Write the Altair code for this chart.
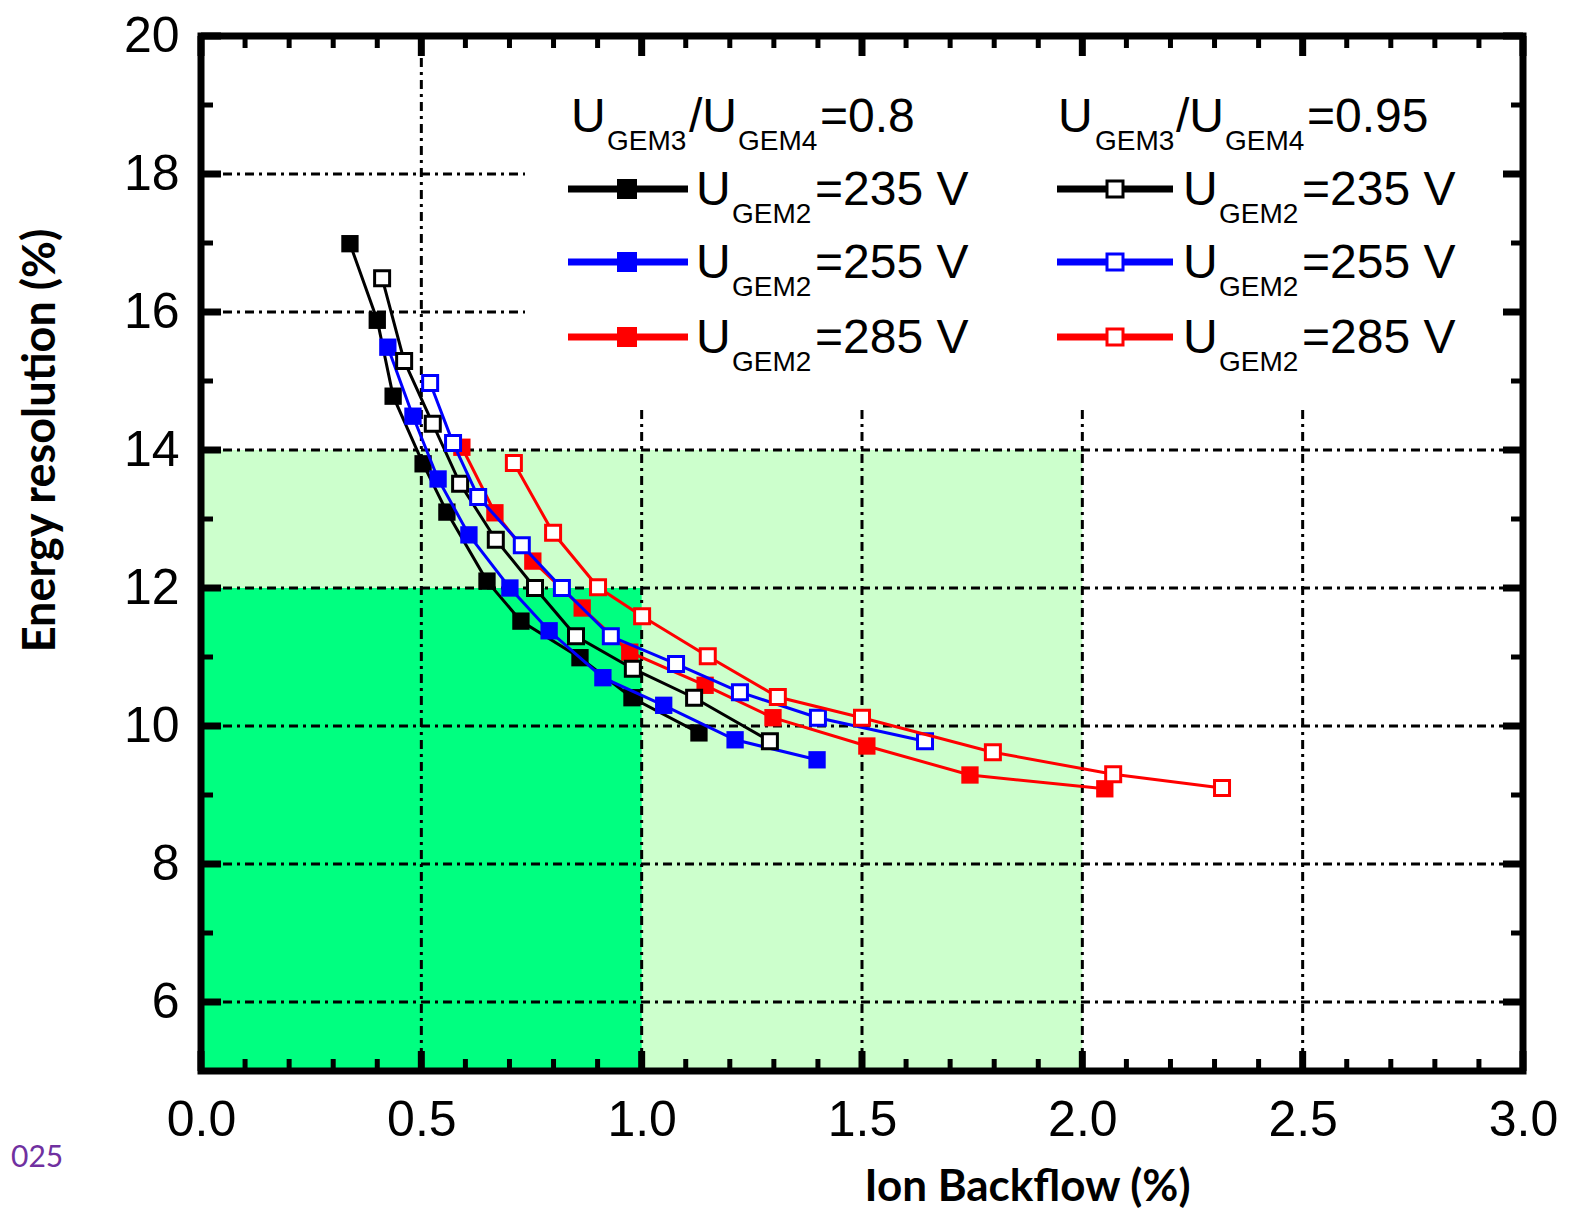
import altair as alt
import pandas as pd

# ---------------- data ----------------
# U_GEM3/U_GEM4 = 0.8  (filled squares)
x_08_235 = [0.338, 0.400, 0.436, 0.504, 0.558, 0.649, 0.726, 0.860, 0.978, 1.130]
y_08_235 = [16.99, 15.88, 14.78, 13.80, 13.10, 12.10, 11.52, 10.99, 10.41, 9.90]
x_08_255 = [0.424, 0.481, 0.538, 0.608, 0.701, 0.790, 0.912, 1.050, 1.212, 1.398]
y_08_255 = [15.49, 14.49, 13.58, 12.77, 12.00, 11.38, 10.70, 10.30, 9.80, 9.51]
x_08_285 = [0.592, 0.667, 0.753, 0.865, 0.973, 1.144, 1.298, 1.511, 1.745, 2.051]
y_08_285 = [14.04, 13.09, 12.39, 11.71, 11.07, 10.59, 10.12, 9.71, 9.29, 9.09]
# U_GEM3/U_GEM4 = 0.95 (open squares)
x_095_235 = [0.411, 0.461, 0.526, 0.588, 0.669, 0.758, 0.851, 0.980, 1.119, 1.291]
y_095_235 = [16.49, 15.29, 14.38, 13.51, 12.70, 12.00, 11.30, 10.83, 10.41, 9.78]
x_095_255 = [0.520, 0.572, 0.629, 0.728, 0.819, 0.930, 1.078, 1.223, 1.400, 1.643]
y_095_255 = [14.97, 14.10, 13.32, 12.62, 12.00, 11.30, 10.90, 10.49, 10.12, 9.78]
x_095_285 = [0.710, 0.799, 0.901, 1.001, 1.150, 1.309, 1.500, 1.797, 2.070, 2.317]
y_095_285 = [13.81, 12.80, 12.01, 11.59, 11.01, 10.42, 10.12, 9.62, 9.30, 9.10]

series = [
    ("0.8-235", x_08_235, y_08_235, "#000000", True),
    ("0.8-255", x_08_255, y_08_255, "#0000FF", True),
    ("0.8-285", x_08_285, y_08_285, "#FF0000", True),
    ("0.95-235", x_095_235, y_095_235, "#000000", False),
    ("0.95-255", x_095_255, y_095_255, "#0000FF", False),
    ("0.95-285", x_095_285, y_095_285, "#FF0000", False),
]

x_tick_labels = [0.0, 0.5, 1.0, 1.5, 2.0, 2.5, 3.0]
y_tick_labels = [6, 8, 10, 12, 14, 16, 18, 20]
x_minor = [round(0.1 * i, 1) for i in range(1, 30) if i % 5 != 0]
y_minor = [7, 9, 11, 13, 15, 17, 19]
y_grid = [6, 8, 10, 12, 14, 16, 18]
x_grid = [0.5, 1.0, 1.5, 2.0, 2.5]

# ---------------- layout ----------------
W, H = 1322, 1035
X0, Y0 = 201, 36  # page position of plot origin
XMAX, YMIN, YMAX = 3.0, 5.0, 20.0


def dx(px):  # page pixel -> data x
    return (px - X0) / W * XMAX


def dy(py):  # page pixel -> data y
    return YMAX - (py - Y0) / H * (YMAX - YMIN)


XS = alt.Scale(domain=[0, XMAX], nice=False, zero=False)
YS = alt.Scale(domain=[YMIN, YMAX], nice=False, zero=False)

xax = alt.Axis(values=x_tick_labels, format=".1f", ticks=False, domain=False, grid=False,
               labelFont="Liberation Sans", labelFontSize=50, labelColor="black",
               labelPadding=24, labelFlush=False, labelOverlap=False,
               title="Ion Backflow (%)", titleFont="Lato", titleFontSize=44,
               titleFontWeight="bold", titleColor="black", titleX=826, titleY=129,
               titleBaseline="alphabetic", titleAlign="center")
yax = alt.Axis(values=y_tick_labels, format="d", ticks=False, domain=False, grid=False,
               labelFont="Liberation Sans", labelFontSize=50, labelColor="black",
               labelPadding=22, labelFlush=False, labelOverlap=False, labelBaseline="middle",
               title="Energy resolution (%)", titleFont="Lato", titleFontSize=45,
               titleFontWeight="bold", titleColor="black", titleX=-161, titleY=404,
               titleAngle=270, titleBaseline="middle", titleAlign="center")


def X(f="x"):
    return alt.X(f"{f}:Q", scale=XS, axis=xax)


def Y(f="y"):
    return alt.Y(f"{f}:Q", scale=YS, axis=yax)


layers = []

# shaded regions
regions = pd.DataFrame({"x": [0, 0], "x2": [2.0, 1.0], "y": [5, 5], "y2": [14, 12],
                        "c": ["#CCFFCC", "#00FF80"]})
layers.append(alt.Chart(regions).mark_rect().encode(
    x=X(), x2="x2:Q", y=Y(), y2="y2:Q", color=alt.Color("c:N", scale=None)))

# grid lines (dash-dot)
gdash = [9, 5, 3, 5]
layers.append(alt.Chart(pd.DataFrame({"y": y_grid})).mark_rule(
    color="black", strokeWidth=3, strokeDash=gdash).encode(
    y=Y(), x=alt.value(0), x2=alt.value(W)))
layers.append(alt.Chart(pd.DataFrame({"x": x_grid})).mark_rule(
    color="black", strokeWidth=3, strokeDash=gdash).encode(
    x=X(), y=alt.value(0), y2=alt.value(H)))

# white legend box
lbox = pd.DataFrame({"x": [dx(525)], "x2": [XMAX], "y": [dy(410)], "y2": [YMAX]})
layers.append(alt.Chart(lbox).mark_rect(color="white").encode(
    x=X(), x2="x2:Q", y=Y(), y2="y2:Q"))

# inward ticks
MAJ, MIN = 20, 12
for vals, ln, w in [(x_tick_labels, MAJ, 7), (x_minor, MIN, 5)]:
    d = pd.DataFrame({"x": vals})
    layers.append(alt.Chart(d).mark_rule(color="black", strokeWidth=w).encode(
        x=X(), y=alt.value(H), y2=alt.value(H - ln)))
    layers.append(alt.Chart(d).mark_rule(color="black", strokeWidth=w).encode(
        x=X(), y=alt.value(0), y2=alt.value(ln)))
for vals, ln, w in [(y_tick_labels, MAJ, 7), (y_minor, MIN, 5)]:
    d = pd.DataFrame({"y": vals})
    layers.append(alt.Chart(d).mark_rule(color="black", strokeWidth=w).encode(
        y=Y(), x=alt.value(0), x2=alt.value(ln)))
    layers.append(alt.Chart(d).mark_rule(color="black", strokeWidth=w).encode(
        y=Y(), x=alt.value(W), x2=alt.value(W - ln)))

# data series
for name, xs, ys, col, filled in series:
    d = pd.DataFrame({"x": xs, "y": ys})
    base = alt.Chart(d)
    layers.append(base.mark_line(color=col, strokeWidth=3).encode(x=X(), y=Y()))
    if filled:
        layers.append(base.mark_point(shape="square", filled=True, color=col, size=300,
                                      opacity=1).encode(x=X(), y=Y()))
    else:
        layers.append(base.mark_point(shape="square", filled=True, fill="white", stroke=col,
                                      strokeWidth=3, size=225, opacity=1).encode(x=X(), y=Y()))

# ---------------- legend ----------------
leg_rows_py = [189, 262, 337]
leg_labels = ["=235 V", "=255 V", "=285 V"]
leg_colors = ["#000000", "#0000FF", "#FF0000"]
columns = [
    # (line x0, line x1, marker x, U x, sub x, label x, filled, header pieces)
    (568, 688, 627, 696, 732, 815, True,
     [(571, 0, "U"), (607, 1, "GEM3"), (689, 0, "/U"), (738, 1, "GEM4"), (820, 0, "=0.8")]),
    (1057, 1173, 1115, 1183, 1219, 1302, False,
     [(1058, 0, "U"), (1095, 1, "GEM3"), (1176, 0, "/U"), (1225, 1, "GEM4"), (1307, 0, "=0.95")]),
]
BIG, SMALL = 48, 28
texts = []
lines = []
marks = []
for (lx0, lx1, mx, ux, sx, tx, filled, header) in columns:
    for px, sub, t in header:
        texts.append({"x": dx(px), "y": dy(150 if sub else 132), "t": t,
                      "s": SMALL if sub else BIG})
    for py, lab, col in zip(leg_rows_py, leg_labels, leg_colors):
        texts.append({"x": dx(ux), "y": dy(py + 16), "t": "U", "s": BIG})
        texts.append({"x": dx(sx), "y": dy(py + 34), "t": "GEM2", "s": SMALL})
        texts.append({"x": dx(tx), "y": dy(py + 16), "t": lab, "s": BIG})
        lines.append({"x": dx(lx0), "x2": dx(lx1), "y": dy(py), "c": col})
        marks.append({"x": dx(mx), "y": dy(py), "c": col, "f": filled})

layers.append(alt.Chart(pd.DataFrame(lines)).mark_rule(strokeWidth=7).encode(
    x=X(), x2="x2:Q", y=Y(), color=alt.Color("c:N", scale=None)))
mk = pd.DataFrame(marks)
layers.append(alt.Chart(mk[mk.f]).mark_point(shape="square", filled=True, size=400,
                                               opacity=1).encode(
    x=X(), y=Y(), color=alt.Color("c:N", scale=None)))
layers.append(alt.Chart(mk[~mk.f]).mark_point(shape="square", filled=True, fill="white",
                                                strokeWidth=3, size=256, opacity=1).encode(
    x=X(), y=Y(), stroke=alt.Stroke("c:N", scale=None)))
layers.append(alt.Chart(pd.DataFrame(texts)).mark_text(
    align="left", baseline="alphabetic", font="Liberation Sans", color="black").encode(
    x=X(), y=Y(), text="t:N", size=alt.Size("s:Q", scale=None)))

# frame
layers.append(alt.Chart(pd.DataFrame({"a": [0]})).mark_rect(
    filled=False, stroke="black", strokeWidth=7).encode(
    x=alt.value(0), x2=alt.value(W), y=alt.value(0), y2=alt.value(H)))

# slide footer fragment
layers.append(alt.Chart(pd.DataFrame({"a": [0]})).mark_text(
    align="left", baseline="middle", font="Lato", fontSize=30, color="#7030A0").encode(
    x=alt.value(11 - X0), y=alt.value(1158 - Y0), text=alt.value("025")))

chart = alt.layer(*layers).properties(
    width=W, height=H,
    padding={"left": X0 - 8, "top": Y0 - 8, "right": 40, "bottom": 140},
    autosize=alt.AutoSizeParams(type="none"),
).configure_view(stroke=None).configure(background="white")

chart.save("out.html", embed_options={"renderer": "svg", "actions": False})
